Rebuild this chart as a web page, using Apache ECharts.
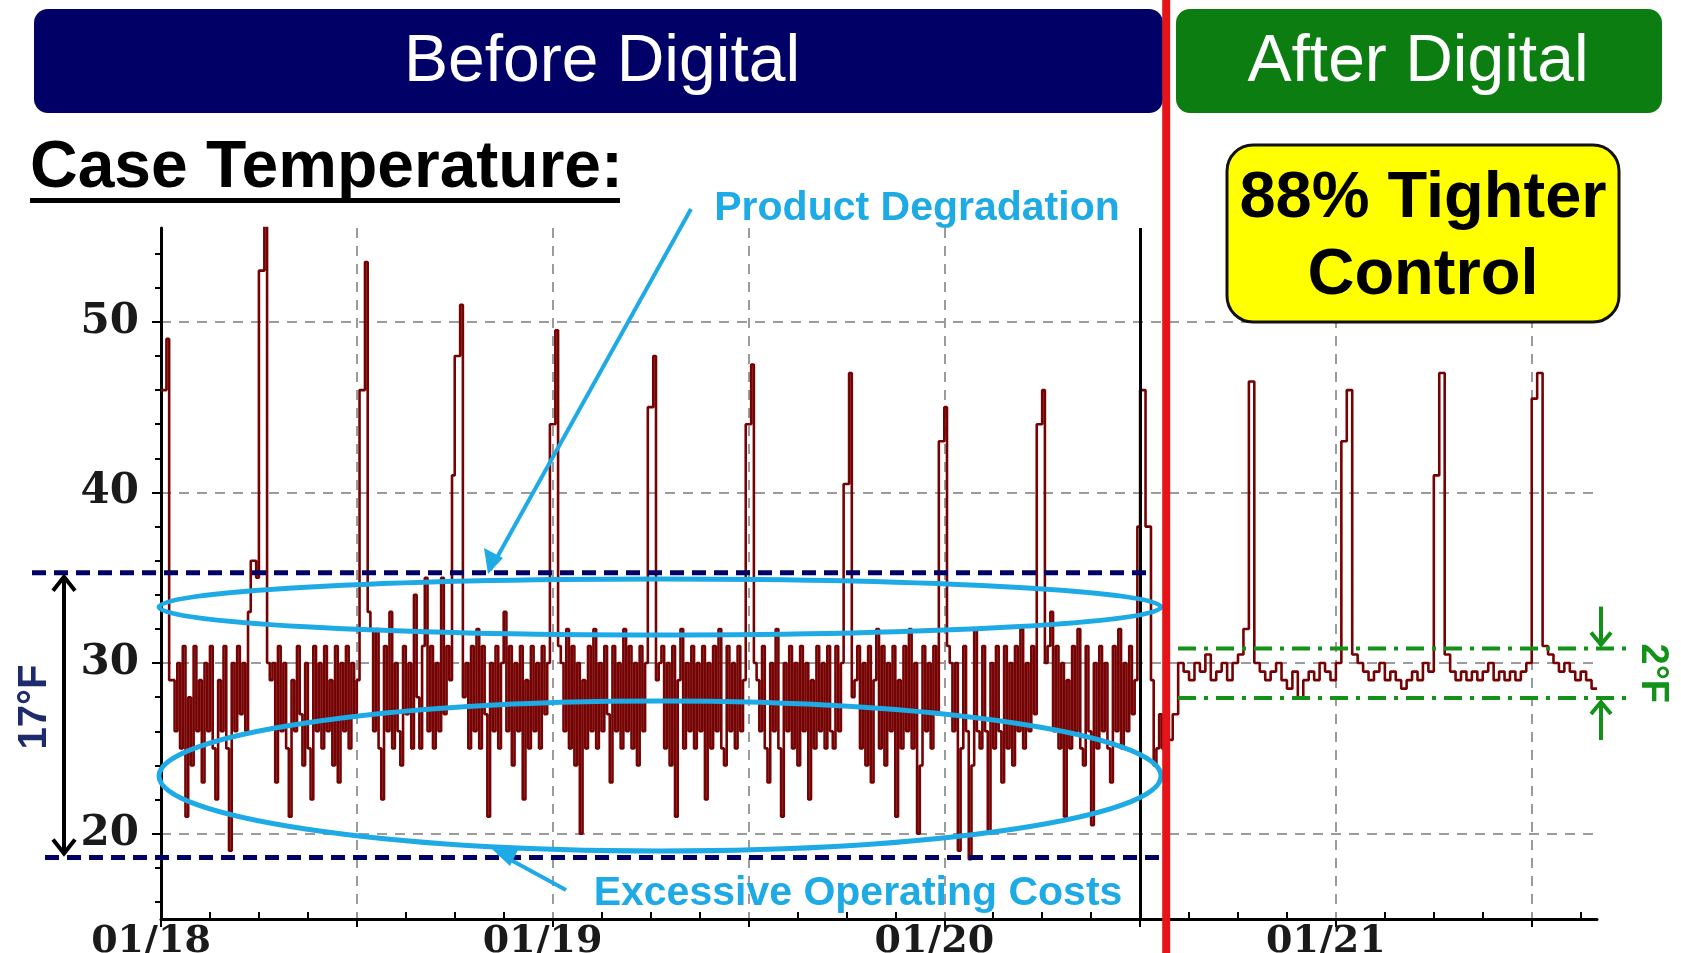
<!DOCTYPE html>
<html><head><meta charset="utf-8">
<script src="https://cdn.jsdelivr.net/npm/echarts@6/dist/echarts.min.js"></script>
<style>html,body{margin:0;padding:0;background:#fff;overflow:hidden}#c{width:1681px;height:953px}</style>
</head><body><div id="c"></div>
<script>
// ---- data: hours since 01/18 00:00 ----
// Before Digital: one reading every 10 minutes
const BEFORE_STEP_HOURS = 1 / 6;
const beforeTemps = [
  46, 46, 49, 29,
  29, 26, 30, 25, 31, 21, 28, 24, 31, 26, 29, 23, 30, 26, 31, 25, 22, 29, 26, 31, 25, 19, 30, 26, 31, 27, 30, 26,
  33, 36, 36, 35, 53, 53, 56, 30, 29,
  30, 23, 31, 26, 30, 25, 21, 29, 26, 31, 27, 24, 30, 25, 22, 31, 26, 30, 25, 31, 26, 29, 24, 31, 23, 30, 26, 31, 25, 30, 27, 29,
  46, 46, 53.5, 33, 32,
  26, 32, 25, 22, 31, 26, 33, 25, 30, 26, 24, 31, 27, 30, 25, 34, 28, 25, 31, 35, 26, 31, 25, 30, 26, 35, 27, 31, 29,
  41, 48, 48, 51, 28,
  30, 25, 31, 26, 32, 25, 31, 27, 21, 30, 26, 31, 25, 30, 33, 26, 31, 24, 30, 26, 31, 22, 29, 25, 31, 26, 30, 25, 31, 27, 30,
  44, 44, 49.5, 31, 30,
  26, 32, 25, 31, 24, 30, 20, 29, 25, 31, 26, 32, 25, 30, 26, 31, 27, 23, 31, 26, 30, 25, 32, 26, 31, 25, 30, 24, 31, 26, 30,
  45, 45, 48, 29, 30,
  31, 25, 30, 24, 31, 21, 29, 32, 25, 30, 26, 31, 25, 30, 26, 31, 22, 30, 25, 31, 26, 32, 25, 24, 31, 26, 30, 25, 31, 26, 29,
  44, 44, 47.5, 30, 29,
  26, 31, 25, 23, 30, 26, 32, 25, 21, 30, 26, 31, 25, 30, 24, 31, 26, 30, 22, 29, 25, 31, 26, 30, 25, 31, 26, 25, 31, 26, 30,
  40.5, 40.5, 47, 28, 29,
  31, 25, 30, 24, 31, 23, 29, 32, 25, 31, 24, 30, 26, 31, 21, 29, 25, 31, 26, 32, 25, 30, 20, 24, 31, 26, 30, 25, 31, 27,
  43, 43, 45, 31, 30,
  26, 30, 19, 25, 31, 26, 18.5, 24, 32, 26, 25, 31, 26, 20, 30, 25, 31, 26, 23, 31, 25, 30, 24, 31, 26, 32, 25, 30, 26, 31, 27,
  44, 44, 46, 30, 31,
  33, 26, 31, 25, 30, 21, 29, 25, 31, 26, 32, 25, 24, 31, 26, 20.5, 30, 25, 31, 26, 30, 25, 23, 31, 26, 32, 25, 30, 26, 31, 27,
  29, 38, 46, 46, 38, 38, 29, 24, 25, 27, 25, 26
];
// After Digital: one reading every 20 minutes
const AFTER_STEP_HOURS = 1 / 3;
const afterTemps = [
  25.5, 27, 30, 29.5, 29, 30, 29.5, 30.5, 29, 29.5, 30, 29, 30, 30.5,
  32, 46.5, 30,
  29.5, 29, 29.5, 30, 29, 28.5, 29.5, 28, 29, 29.5, 29, 30, 29.5, 29, 30,
  43, 46, 30.5,
  30, 29.5, 29, 29.5, 30, 29, 29.5, 29, 28.5, 29, 29.5, 29, 30, 29.5,
  41, 47, 30.5,
  29.5, 29, 29.5, 29, 29.5, 29, 29.5, 30, 29, 29.5, 29, 29.5, 29, 29.5, 30,
  45.5, 47, 31,
  30.5, 30, 29.5, 30, 29.5, 29, 29.5, 29, 28.5, 28.5
];
const xTickHours = [0, 12, 24, 36, 48, 60, 72, 84];
const xMinorHours = [3, 6, 9, 15, 18, 21, 27, 30, 33, 39, 42, 45, 51, 54, 57, 63, 66, 69, 75, 78, 81, 87];
const xLabelHours = [0, 24, 48, 72];
const xLabels = ['01/18', '01/19', '01/20', '01/21'];
const yTicks = [20, 30, 40, 50];
const yMinorTicks = [16, 18, 22, 24, 26, 28, 32, 34, 36, 38, 42, 44, 46, 48, 52, 54];
const beforeBand = [35.3, 18.6];   // 17°F spread
const afterBand = [30.85, 27.95];  // 2°F spread
const oldChartEdgeHour = 60;
const dividerHour = 61.6;

const afterStart = beforeTemps.length * BEFORE_STEP_HOURS;
const seriesData = beforeTemps.map((v, i) => [i * BEFORE_STEP_HOURS, v])
  .concat(afterTemps.map((v, i) => [afterStart + i * AFTER_STEP_HOURS, v]));

const chart = echarts.init(document.getElementById('c'));
const gridLine = { color: '#9b9b9b', width: 2, type: [10, 8] };
chart.setOption({
  animation: false,
  grid: { left: 161, right: 84, top: 228, bottom: 34, containLabel: false, outerBoundsMode: 'none' },
  xAxis: [
    {
      type: 'value', min: 0, max: 88,
      axisLine: { onZero: false, lineStyle: { color: '#000', width: 3 } },
      axisTick: { customValues: xTickHours, length: 8, lineStyle: { color: '#000', width: 2 } },
      axisLabel: {
        customValues: xLabelHours,
        formatter: v => xLabels[xLabelHours.indexOf(v)] || '',
        fontFamily: 'DejaVu Serif', fontWeight: 'bold', fontSize: 38, color: '#1a1a1a', margin: 4,
        padding: [0, 20, 0, 0]
      },
      splitLine: { show: true, lineStyle: gridLine }
    },
    {
      type: 'value', min: 0, max: 88, position: 'bottom',
      axisLine: { show: false, onZero: false },
      axisTick: { customValues: xMinorHours, inside: true, length: 7, lineStyle: { color: '#000', width: 2 } },
      axisLabel: { show: false }, splitLine: { show: false }
    }
  ],
  yAxis: [
    {
      type: 'value', min: 15, max: 55.5,
      axisLine: { show: true, onZero: false, lineStyle: { color: '#000', width: 3 } },
      axisTick: { show: true, customValues: yTicks, length: 9, lineStyle: { color: '#000', width: 2 } },
      axisLabel: {
        customValues: yTicks,
        fontFamily: 'DejaVu Serif', fontWeight: 'bold', fontSize: 42, color: '#1a1a1a', margin: 22
      },
      splitLine: { show: true, lineStyle: gridLine }
    },
    {
      type: 'value', min: 15, max: 55.5, position: 'left',
      axisLine: { show: false, onZero: false },
      axisTick: { show: true, customValues: yMinorTicks, length: 6, lineStyle: { color: '#000', width: 2 } },
      axisLabel: { show: false }, splitLine: { show: false }
    }
  ],
  series: [{
    type: 'line', step: 'end', showSymbol: false, xAxisIndex: 0, yAxisIndex: 0,
    data: seriesData,
    lineStyle: { color: '#760303', width: 2.6 },
    markLine: {
      silent: true, symbol: 'none', label: { show: false },
      lineStyle: { color: '#000', type: 'solid', width: 3 },
      data: [{ xAxis: oldChartEdgeHour }]
    }
  }]
});

function px(x, y) { return chart.convertToPixel({ gridIndex: 0 }, [x, y]); }
const Z = 100;
const navy = '#000066', cyan = '#1eaae4', green = '#149119';
const topNavyY = px(0, beforeBand[0])[1], botNavyY = px(0, beforeBand[1])[1];
const topGreenY = px(0, afterBand[0])[1], botGreenY = px(0, afterBand[1])[1];
const divX = px(dividerHour, 30)[0];
const g = [];
// header boxes
g.push({ type: 'rect', z: Z, shape: { x: 34, y: 9, width: 1129, height: 104, r: 14 }, style: { fill: navy } });
g.push({ type: 'rect', z: Z, shape: { x: 1176, y: 9, width: 486, height: 104, r: 14 }, style: { fill: '#0c7d10' } });
g.push({ type: 'text', z: Z + 1, style: { text: 'Before Digital', x: 602, y: 63, textAlign: 'center', textVerticalAlign: 'middle', font: '66px "Liberation Sans", Arial, sans-serif', fill: '#fff' } });
g.push({ type: 'text', z: Z + 1, style: { text: 'After Digital', x: 1418, y: 63, textAlign: 'center', textVerticalAlign: 'middle', font: '66px "Liberation Sans", Arial, sans-serif', fill: '#fff' } });
// title
g.push({ type: 'text', z: Z, style: { text: 'Case Temperature:', x: 30, y: 169, textAlign: 'left', textVerticalAlign: 'middle', font: 'bold 66px "Liberation Sans", Arial, sans-serif', fill: '#000' } });
g.push({ type: 'rect', z: Z, shape: { x: 30, y: 198, width: 590, height: 5 }, style: { fill: '#000' } });
// yellow callout
g.push({ type: 'rect', z: Z, shape: { x: 1227, y: 145, width: 392, height: 177, r: 26 }, style: { fill: '#ffff00', stroke: '#111', lineWidth: 3 } });
g.push({ type: 'text', z: Z + 1, style: { text: '88% Tighter', x: 1423, y: 199, textAlign: 'center', textVerticalAlign: 'middle', font: 'bold 65px "Liberation Sans", Arial, sans-serif', fill: '#000' } });
g.push({ type: 'text', z: Z + 1, style: { text: 'Control', x: 1423, y: 276, textAlign: 'center', textVerticalAlign: 'middle', font: 'bold 65px "Liberation Sans", Arial, sans-serif', fill: '#000' } });
// red divider
g.push({ type: 'rect', z: Z + 5, shape: { x: divX - 4, y: 0, width: 8, height: 953 }, style: { fill: '#e51419' } });
// navy band lines
g.push({ type: 'line', z: Z, shape: { x1: 32, y1: topNavyY, x2: 1152, y2: topNavyY }, style: { stroke: navy, lineWidth: 5, lineDash: [14, 8] } });
g.push({ type: 'line', z: Z, shape: { x1: 45, y1: botNavyY, x2: 1163, y2: botNavyY }, style: { stroke: navy, lineWidth: 5, lineDash: [14, 8] } });
// 17°F arrow
const ax = 64;
g.push({ type: 'line', z: Z, shape: { x1: ax, y1: topNavyY + 4, x2: ax, y2: botNavyY - 4 }, style: { stroke: '#000', lineWidth: 4 } });
g.push({ type: 'polyline', z: Z, shape: { points: [[ax - 11, topNavyY + 18], [ax, topNavyY + 4], [ax + 11, topNavyY + 18]] }, style: { stroke: '#000', lineWidth: 4, fill: null } });
g.push({ type: 'polyline', z: Z, shape: { points: [[ax - 11, botNavyY - 18], [ax, botNavyY - 4], [ax + 11, botNavyY - 18]] }, style: { stroke: '#000', lineWidth: 4, fill: null } });
g.push({ type: 'text', z: Z, x: 35, y: 707, rotation: Math.PI / 2, style: { text: '17°F', x: 0, y: 0, textAlign: 'center', textVerticalAlign: 'middle', font: 'bold 40px "Liberation Sans", Arial, sans-serif', fill: '#1c2a6e' } });
// ellipses
g.push({ type: 'ellipse', z: Z, shape: { cx: 660, cy: 607, rx: 501, ry: 28 }, style: { stroke: cyan, lineWidth: 5, fill: null } });
g.push({ type: 'ellipse', z: Z, shape: { cx: 660, cy: 776, rx: 501, ry: 75 }, style: { stroke: cyan, lineWidth: 5, fill: null } });
// annotations
g.push({ type: 'text', z: Z, style: { text: 'Product Degradation', x: 917, y: 209, textAlign: 'center', textVerticalAlign: 'middle', font: 'bold 41px "Liberation Sans", Arial, sans-serif', fill: cyan } });
g.push({ type: 'line', z: Z, shape: { x1: 691, y1: 209, x2: 490, y2: 570 }, style: { stroke: cyan, lineWidth: 4 } });
g.push({ type: 'polygon', z: Z, shape: { points: [[488, 574], [484, 548], [503, 558]] }, style: { fill: cyan } });
g.push({ type: 'text', z: Z, style: { text: 'Excessive Operating Costs', x: 858, y: 894, textAlign: 'center', textVerticalAlign: 'middle', font: 'bold 41px "Liberation Sans", Arial, sans-serif', fill: cyan } });
g.push({ type: 'line', z: Z, shape: { x1: 566, y1: 890, x2: 498, y2: 853 }, style: { stroke: cyan, lineWidth: 4 } });
g.push({ type: 'polygon', z: Z, shape: { points: [[492, 849], [518, 850], [510, 866]] }, style: { fill: cyan } });
// green band
g.push({ type: 'line', z: Z, shape: { x1: 1178, y1: topGreenY, x2: 1632, y2: topGreenY }, style: { stroke: green, lineWidth: 4, lineDash: [18, 8, 4, 8] } });
g.push({ type: 'line', z: Z, shape: { x1: 1178, y1: botGreenY, x2: 1632, y2: botGreenY }, style: { stroke: green, lineWidth: 4, lineDash: [18, 8, 4, 8] } });
const gx = 1601;
g.push({ type: 'line', z: Z, shape: { x1: gx, y1: topGreenY - 42, x2: gx, y2: topGreenY - 3 }, style: { stroke: green, lineWidth: 4 } });
g.push({ type: 'polyline', z: Z, shape: { points: [[gx - 10, topGreenY - 16], [gx, topGreenY - 4], [gx + 10, topGreenY - 16]] }, style: { stroke: green, lineWidth: 4, fill: null } });
g.push({ type: 'line', z: Z, shape: { x1: gx, y1: botGreenY + 42, x2: gx, y2: botGreenY + 3 }, style: { stroke: green, lineWidth: 4 } });
g.push({ type: 'polyline', z: Z, shape: { points: [[gx - 10, botGreenY + 16], [gx, botGreenY + 4], [gx + 10, botGreenY + 16]] }, style: { stroke: green, lineWidth: 4, fill: null } });
g.push({ type: 'text', z: Z, x: 1652, y: (topGreenY + botGreenY) / 2, rotation: -Math.PI / 2, style: { text: '2°F', x: 0, y: 0, textAlign: 'center', textVerticalAlign: 'middle', font: 'bold 38px "Liberation Sans", Arial, sans-serif', fill: green } });
chart.setOption({ graphic: { elements: g } });
</script></body></html>
